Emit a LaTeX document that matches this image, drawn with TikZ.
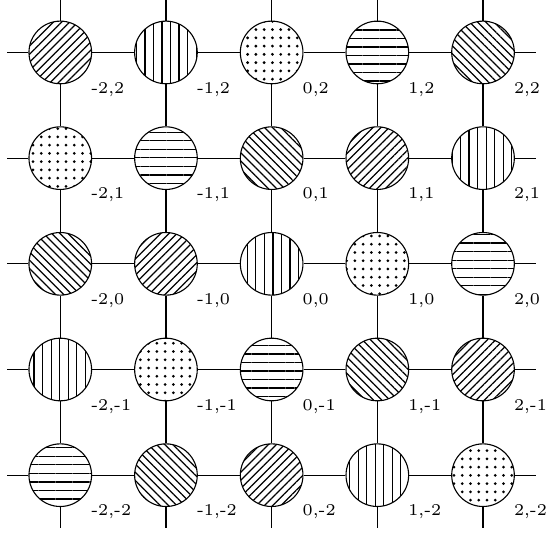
\documentclass[tikz,border=0pt]{standalone}
\usetikzlibrary{calc,patterns.meta}

\begin{document}
\begin{tikzpicture}[
        site/.style={draw, circle, minimum size=0.8cm, inner sep=0pt},
        coord/.style={font=\fontsize{6}{7}\selectfont, inner sep=0pt, anchor=west},
        pat0/.style={pattern={Lines[angle=45,distance=2.1pt,line width=0.45pt]}},
        pat1/.style={pattern={Lines[angle=90,distance=3.1pt,line width=0.45pt]}},
        pat2/.style={pattern={Dots[distance=3pt,radius=0.55pt]}},
        pat3/.style={pattern={Lines[angle=0,distance=3.1pt,line width=0.45pt]}},
        pat4/.style={pattern={Lines[angle=-45,distance=2.1pt,line width=0.45pt]}}
    ]
        \useasboundingbox (-3.47,-3.44) rectangle (3.53,3.37);

        % Lattice sites + labels
        \foreach \i in {-2,...,2}{
            \foreach \j in {-2,...,2}{
                \pgfmathtruncatemacro\k{mod(\i-2*\j+6,5)}
                \node[site, pat\k] (s\i\j) at (1.35*\i,1.35*\j) {};
                \node[coord] (l\i\j) at ($(s\i\j)+(0.39,-0.47)$) {\i,\j};
            }
        }

        % Bonds between neighbours
        \foreach \a [evaluate=\a as \b using int(\a+1)] in {-2,...,1}{
            \foreach \c in {-2,...,2}{
                \draw (s\a\c) -- (s\b\c);
                \draw (s\c\a) -- (s\c\b);
            }
        }

        % Open ends at the border
        \foreach \c in {-2,...,2}{
            \coordinate (w\c) at (-3.375,1.35*\c);
            \coordinate (e\c) at (3.375,1.35*\c);
            \coordinate (n\c) at (1.35*\c,3.375);
            \coordinate (b\c) at (1.35*\c,-3.375);
            \draw (w\c) -- (s-2\c);
            \draw (s2\c) -- (e\c);
            \draw (s\c2) -- (n\c);
            \draw (s\c-2) -- (b\c);
        }
    \end{tikzpicture}
\end{document}
